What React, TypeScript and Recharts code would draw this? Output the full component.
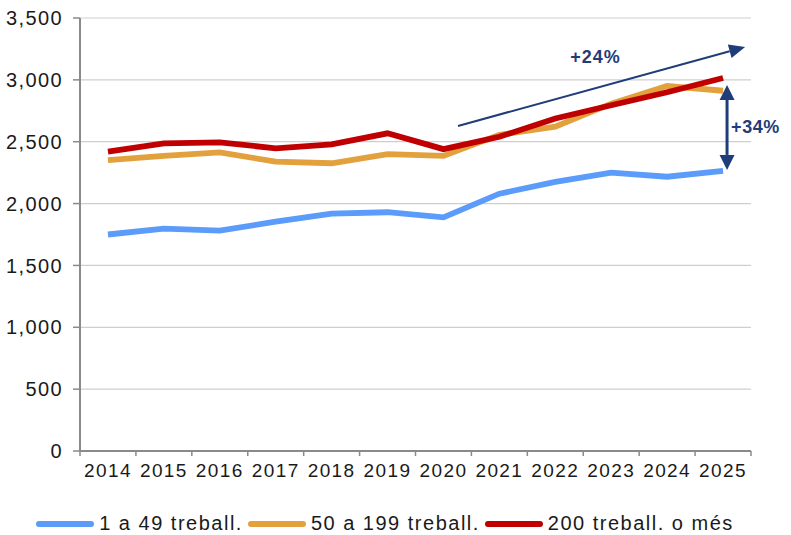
import React from "react";
import { LineChart, Line, XAxis, YAxis, CartesianGrid, Legend, ReferenceLine } from "recharts";

const years = ["2014", "2015", "2016", "2017", "2018", "2019", "2020", "2021", "2022", "2023", "2024", "2025"];
const small = [1750, 1797, 1781, 1854, 1918, 1930, 1889, 2080, 2175, 2250, 2217, 2264];
const medium = [2352, 2385, 2413, 2339, 2326, 2400, 2385, 2555, 2622, 2808, 2950, 2912];
const large = [2420, 2487, 2495, 2447, 2479, 2568, 2440, 2540, 2688, 2795, 2900, 3015];
const yTicks = [0, 500, 1000, 1500, 2000, 2500, 3000, 3500];

const data = years.map((year, i) => ({ year, small: small[i], medium: medium[i], large: large[i] }));

const series = [
  { key: "small", label: "1 a 49 treball.", color: "#5B9BFA" },
  { key: "medium", label: "50 a 199 treball.", color: "#E2A13D" },
  { key: "large", label: "200 treball. o més", color: "#C00000" },
];

const W = 791;
const H = 535;
const margin = { top: 18, right: 40, bottom: 0, left: 0 };
const Y_AXIS_W = 80;
const band = (W - margin.left - margin.right - Y_AXIS_W) / years.length;

const FONT = "'Liberation Sans', Arial, sans-serif";
const NAVY = "#1F3D7A";
const AXIS = "#8a8a8a";

const XTick = (props: any) => {
  const { x, y, payload, index } = props;
  const axisY = y - 5;
  return (
    <g>
      <line x1={x - band / 2} y1={axisY} x2={x - band / 2} y2={axisY + 5} stroke={AXIS} strokeWidth={1.5} />
      {index === years.length - 1 && (
        <line x1={x + band / 2} y1={axisY} x2={x + band / 2} y2={axisY + 5} stroke={AXIS} strokeWidth={1.5} />
      )}
      <text x={x} y={axisY + 26} textAnchor="middle" fontSize={19} letterSpacing={1.4} fill="#1a1a1a" fontFamily={FONT}>
        {payload.value}
      </text>
    </g>
  );
};

const head = (ex: number, ey: number, ang: number, len: number, half: number) => {
  const bx = ex - len * Math.cos(ang);
  const by = ey - len * Math.sin(ang);
  const pts = [
    [ex, ey],
    [bx + half * Math.sin(ang), by - half * Math.cos(ang)],
    [bx - half * Math.sin(ang), by + half * Math.cos(ang)],
  ];
  return { bx, by, points: pts.map((p) => p.join(",")).join(" ") };
};

const TrendArrow = (props: any) => {
  const { x1, y1, x2, y2 } = props;
  const t0 = 0.052;
  const t1 = 1.079;
  const sx = x1 + (x2 - x1) * t0;
  const sy = y1 + (y2 - y1) * t0;
  const ex = x1 + (x2 - x1) * t1;
  const ey = y1 + (y2 - y1) * t1;
  const ang = Math.atan2(ey - sy, ex - sx);
  const h = head(ex, ey, ang, 16, 7);
  return (
    <g>
      <line x1={sx} y1={sy} x2={h.bx} y2={h.by} stroke={NAVY} strokeWidth={2} />
      <polygon points={h.points} fill={NAVY} />
      <text x={(sx + ex) / 2 - 6} y={(sy + ey) / 2 - 23} textAnchor="middle" fontSize={18} fontWeight="bold" letterSpacing={1} fill={NAVY} fontFamily={FONT}>
        +24%
      </text>
    </g>
  );
};

const GapArrow = (props: any) => {
  const { x1, y1, y2 } = props;
  const x = x1 + 4;
  const top = Math.min(y1, y2);
  const bottom = Math.max(y1, y2);
  const a = head(x, top, -Math.PI / 2, 15, 7.5);
  const b = head(x, bottom, Math.PI / 2, 15, 7.5);
  return (
    <g>
      <line x1={x} y1={a.by} x2={x} y2={b.by} stroke={NAVY} strokeWidth={3} />
      <polygon points={a.points} fill={NAVY} />
      <polygon points={b.points} fill={NAVY} />
      <text x={x + 4} y={(top + bottom) / 2 + 6} textAnchor="start" fontSize={18} fontWeight="bold" letterSpacing={0.6} fill={NAVY} fontFamily={FONT}>
        +34%
      </text>
    </g>
  );
};

const LegendContent = () => (
  <div style={{ display: "flex", justifyContent: "center", alignItems: "center", paddingTop: 17, fontFamily: FONT, fontSize: 20, letterSpacing: 1.5, color: "#1a1a1a" }}>
    {series.map((s) => (
      <div key={s.key} style={{ display: "flex", alignItems: "center", marginRight: 5 }}>
        <span style={{ display: "inline-block", width: 58, height: 6, borderRadius: 3, background: s.color, marginRight: 5 }} />
        <span>{s.label}</span>
      </div>
    ))}
  </div>
);

export default function App() {
  return (
    <div style={{ position: "absolute", left: 0, top: 0, width: W, height: H, background: "#fff" }}>
      <LineChart width={W} height={H} data={data} margin={margin}>
        <CartesianGrid vertical={false} stroke="#cfcfcf" strokeWidth={1.2} />
        <XAxis
          dataKey="year"
          height={44}
          padding={{ left: band / 2, right: band / 2 }}
          axisLine={{ stroke: AXIS, strokeWidth: 2 }}
          tickLine={false}
          tickSize={5}
          tickMargin={0}
          interval={0}
          tick={<XTick />}
        />
        <YAxis
          width={Y_AXIS_W}
          domain={[0, 3500]}
          ticks={yTicks}
          interval={0}
          axisLine={{ stroke: AXIS, strokeWidth: 2 }}
          tickLine={{ stroke: AXIS, strokeWidth: 1.5 }}
          tickSize={7}
          tickMargin={10}
          tickFormatter={(v: number) => v.toLocaleString("en-US")}
          tick={{ fill: "#1a1a1a", fontSize: 20, fontFamily: FONT, letterSpacing: 1.4 }}
        />
        <Legend verticalAlign="bottom" height={40} content={<LegendContent />} wrapperStyle={{ left: 0, width: W - 16 }} />
        {series.map((s) => (
          <Line key={s.key} type="linear" dataKey={s.key} name={s.label} stroke={s.color} strokeWidth={5.8} dot={false} isAnimationActive={false} />
        ))}
        <ReferenceLine segment={[{ x: "2020", y: 2595 }, { x: "2025", y: 3217 }]} shape={<TrendArrow />} ifOverflow="visible" />
        <ReferenceLine segment={[{ x: "2025", y: 2272 }, { x: "2025", y: 2959 }]} shape={<GapArrow />} ifOverflow="visible" />
      </LineChart>
    </div>
  );
}
